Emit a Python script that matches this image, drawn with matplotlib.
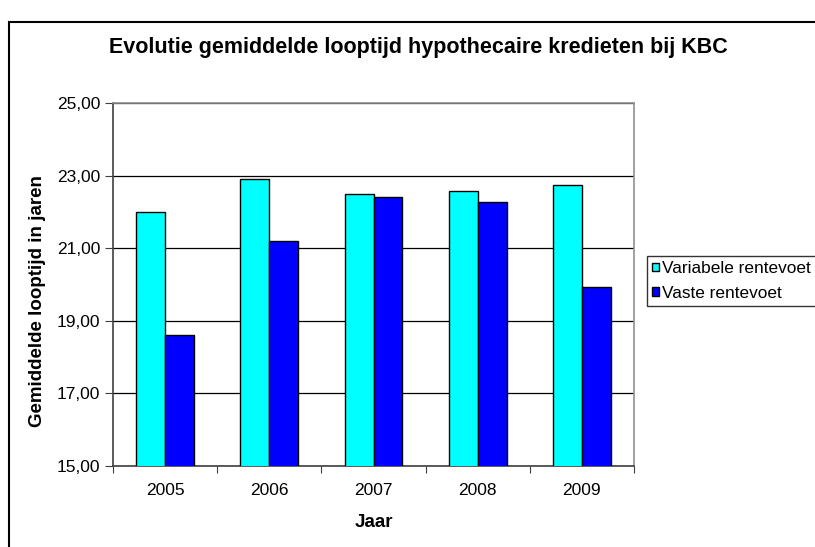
import matplotlib
matplotlib.use('agg')
import matplotlib.pyplot as plt
import matplotlib.patches as mpatches
import numpy as np

# gegevens
jaren = ['2005', '2006', '2007', '2008', '2009']
variabel = [22.00, 22.92, 22.48, 22.58, 22.73]
vast = [18.60, 21.20, 22.40, 22.26, 19.93]
yticks = [15, 17, 19, 21, 23, 25]

plt.rcParams['font.family'] = ['Liberation Sans', 'DejaVu Sans']

W, H = 815, 547
fig = plt.figure(figsize=(W/100, H/100), dpi=100)
ax = fig.add_axes([113/W, 1-466/H, (634-113)/W, (466-103)/H])

x = np.arange(len(jaren))
bw = 0.278
ax.bar(x - bw/2, variabel, bw, bottom=0, color='#00ffff', edgecolor='black', linewidth=1, label='Variabele rentevoet', zorder=3)
ax.bar(x + bw/2, vast, bw, bottom=0, color='#0000ff', edgecolor='black', linewidth=1, label='Vaste rentevoet', zorder=3)

ax.set_ylim(15, 25)
ax.set_xlim(-0.5, len(jaren)-0.5)
ax.set_yticks(yticks)
ax.set_yticklabels([('%.2f' % v).replace('.', ',') for v in yticks], fontsize=12.5)
ax.yaxis.grid(True, color='black', linewidth=0.9, zorder=0)

# x-ticks tussen de groepen, labels in het midden
ax.set_xticks(np.arange(len(jaren)+1) - 0.5)
ax.set_xticklabels([])
ax.set_xticks(x, minor=True)
ax.set_xticklabels(jaren, minor=True, fontsize=12.5)
ax.tick_params(axis='x', which='minor', length=0, pad=12)
ax.tick_params(axis='x', which='major', length=5, direction='out', color='#404040')
ax.tick_params(axis='y', length=6, direction='out', color='#404040', pad=3)

for s in ['left', 'bottom']:
    ax.spines[s].set_color('#404040')
    ax.spines[s].set_linewidth(1.2)
for s in ['top', 'right']:
    ax.spines[s].set_color('#909090')
    ax.spines[s].set_linewidth(1.2)

ax.set_ylabel('Gemiddelde looptijd in jaren', fontsize=13.5, weight='bold')
ax.yaxis.set_label_coords(-0.129, 0.4545)
ax.set_xlabel('Jaar', fontsize=13.5, weight='bold')
ax.xaxis.set_label_coords(0.5, -0.133)

fig.text(418/W, 1-53/H, 'Evolutie gemiddelde looptijd hypothecaire kredieten bij KBC',
         ha='center', va='baseline', fontsize=15.5, weight='bold')

leg = fig.legend(loc='upper left', bbox_to_anchor=(647/W, 1-256/H), frameon=True,
                 fancybox=False, edgecolor='black', fontsize=12.4, handlelength=0.4,
                 handleheight=0.4, handletextpad=0.2, borderpad=0.3, labelspacing=0.55,
                 borderaxespad=0)
leg.get_frame().set_linewidth(1)
for h in leg.legend_handles:
    h.set_linewidth(1)

# rand rond de hele grafiek
fig.patches.append(mpatches.Rectangle((9/W, -0.05), 1.1, 1-22/H+0.05, transform=fig.transFigure,
                                      fill=False, edgecolor='black', linewidth=1.5))

plt.savefig('out.png', format='png')
